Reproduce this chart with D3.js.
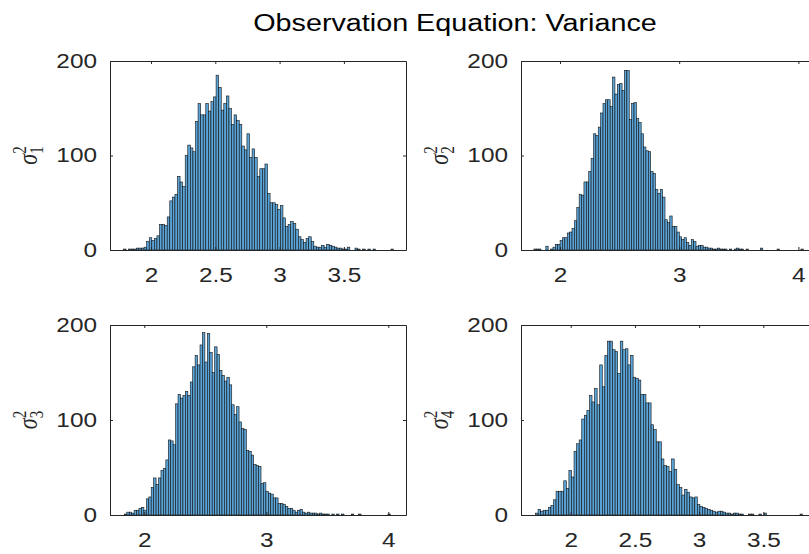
<!DOCTYPE html>
<html>
<head>
<meta charset="utf-8">
<script src="https://cdn.jsdelivr.net/npm/d3@7"></script>
<style>
  body { margin: 0; background: #fff; }
  svg { display: block; }
</style>
</head>
<body>
<svg id="chart" width="809" height="554"></svg>
<script>
// Posterior draws of the observation-equation variances, binned (bin width 0.02)
const binWidth = 0.02;
const yTicks = [0, 100, 200];

const binStart1 = 1.786;
const counts1 = [1,0,1,1,1,2,2,2,3,
  9,13,10,12,15,27,27,26,35,52,
  56,59,78,72,67,100,111,108,104,136,
  155,143,143,155,147,157,162,185,172,148,
  155,163,150,133,143,137,133,110,106,123,
  98,107,98,78,86,86,91,60,50,50,
  48,43,47,34,25,27,30,28,22,14,
  11,8,12,14,9,4,3,3,5,3,
  6,5,4,3,2,2,1,1,3,0,
  0,2,1,0,1,0,1,0,1,0,
  0,0,0,0,0,1];
const xDomain1 = [1.681, 3.983];
const xTicks1 = [2, 2.5, 3, 3.5];

const binStart2 = 1.781;
const counts2 = [1,1,1,0,0,4,0,1,3,6,
  6,10,13,13,18,19,23,31,45,59,
  58,72,72,83,97,123,121,130,145,155,
  159,159,152,183,165,175,176,169,190,190,
  138,155,156,139,135,123,109,105,104,83,
  81,64,60,64,56,32,29,36,25,25,
  19,14,11,13,8,5,11,9,4,5,
  5,3,3,2,2,1,1,2,1,1,
  1,0,1,0,1,2,1,1,0,1,
  0,0,0,0,0,2,0,0,0,0,
  0,0,1,0,0,0,0,0,0,0,0,0,1];
const xDomain2 = [1.673, 4.156];
const xTicks2 = [2, 3, 4];

const binStart3 = 1.8167;
const counts3 = [0,1,3,3,2,5,5,7,8,5,
  17,19,29,39,32,39,47,49,58,79,
  78,74,117,127,123,126,130,126,140,156,
  168,158,179,192,161,191,171,150,177,169,
  152,147,141,145,137,116,106,114,98,91,
  90,68,67,63,53,52,51,33,34,25,
  23,22,18,18,12,12,11,9,7,7,
  5,3,5,6,3,2,3,2,2,2,
  1,2,1,1,1,0,1,0,1,0,
  1,0,0,0,1,0,0,1,0,0,
  0,0,0,0,0,0,0,0,0,1];
const xDomain3 = [1.719, 4.145];
const xTicks3 = [2, 3, 4];

const binStart4 = 1.726;
const counts4 = [2,6,4,5,5,8,10,16,25,25,
  25,36,28,47,40,67,75,79,101,105,
  110,126,119,133,116,158,135,168,183,183,
  174,172,149,183,174,175,158,168,145,144,
  142,127,127,118,118,95,90,77,77,59,
  52,51,46,59,48,32,29,21,27,24,
  19,18,19,11,9,8,7,6,5,4,
  3,4,4,3,2,2,1,2,2,1,
  1,0,0,1,1,0,0,1,0,2,
  0,0,0,0,0,0,0,0,0,0,0,0,0,1];
const xDomain4 = [1.613, 3.918];
const xTicks4 = [2, 2.5, 3, 3.5];

const subscripts = ["1", "2", "3", "4"];
const titleText = "Observation Equation: Variance";

// ---- layout ----
const svg = d3.select("#chart");
const STRETCH = 1.25;           // horizontal widening applied to all lettering
const W = 296;
const colX = [110, 521];
const rowY = [61, 325];
const rowH = [189, 190];
const axisColor = "#262626";
const sans = "'Liberation Sans', Arial, Helvetica, sans-serif";

const panels = [
  { start: binStart1, counts: counts1, xDomain: xDomain1, xTicks: xTicks1, col: 0, row: 0 },
  { start: binStart2, counts: counts2, xDomain: xDomain2, xTicks: xTicks2, col: 1, row: 0 },
  { start: binStart3, counts: counts3, xDomain: xDomain3, xTicks: xTicks3, col: 0, row: 1 },
  { start: binStart4, counts: counts4, xDomain: xDomain4, xTicks: xTicks4, col: 1, row: 1 }
];

// title
svg.append("text")
  .attr("transform", `translate(455,31) scale(${STRETCH},1)`)
  .attr("text-anchor", "middle")
  .style("font-family", sans)
  .style("font-size", "23px")
  .style("fill", "#000")
  .text(titleText);

panels.forEach((p, i) => {
  const x0 = colX[p.col], y0 = rowY[p.row], H = rowH[p.row];
  const x = d3.scaleLinear().domain(p.xDomain).range([0, W]);
  const y = d3.scaleLinear().domain([0, 200]).range([H, 0]);
  const g = svg.append("g").attr("transform", `translate(${x0},${y0})`);

  const bins = p.counts.map((c, k) => ({
    x0: p.start + k * binWidth,
    x1: p.start + (k + 1) * binWidth,
    c
  })).filter(d => d.c > 0);

  g.append("g").selectAll("rect").data(bins).join("rect")
    .attr("x", d => x(d.x0))
    .attr("width", d => x(d.x1) - x(d.x0))
    .attr("y", d => y(d.c))
    .attr("height", d => y(0) - y(d.c))
    .attr("fill", "#5aa4d8")
    .attr("stroke", "#111")
    .attr("stroke-width", 0.6);

  const fmt = d => String(d);

  const bottom = g.append("g").attr("transform", `translate(0,${H})`)
    .call(d3.axisBottom(x).tickValues(p.xTicks).tickFormat(fmt)
      .tickSizeInner(-3).tickSizeOuter(0).tickPadding(18));
  const top = g.append("g")
    .call(d3.axisTop(x).tickValues(p.xTicks).tickFormat("")
      .tickSizeInner(-3).tickSizeOuter(0));
  const left = g.append("g")
    .call(d3.axisLeft(y).tickValues(yTicks).tickFormat(fmt)
      .tickSizeInner(-3).tickSizeOuter(0).tickPadding(10.4));
  const right = g.append("g").attr("transform", `translate(${W},0)`)
    .call(d3.axisRight(y).tickValues(yTicks).tickFormat("")
      .tickSizeInner(-3).tickSizeOuter(0));

  [bottom, top, left, right].forEach(a => {
    a.selectAll("path.domain").attr("stroke", axisColor).attr("stroke-width", 1);
    a.selectAll(".tick line").attr("stroke", axisColor).attr("stroke-width", 1);
    a.selectAll("text")
      .style("font-family", sans)
      .style("font-size", "19.5px")
      .attr("fill", axisColor);
  });
  bottom.selectAll("text").attr("transform", `scale(${STRETCH},1)`);
  left.selectAll("text").attr("transform", `scale(${STRETCH},1)`);

  // y label: sigma_i^2, rotated
  const lab = svg.append("text")
    .attr("transform", `translate(${x0 - 73},${y0 + H / 2}) scale(${STRETCH},1) rotate(-90)`)
    .attr("text-anchor", "middle")
    .style("font-family", "'Liberation Serif', 'DejaVu Serif', serif")
    .style("font-size", "22px")
    .attr("fill", axisColor);
  lab.append("tspan").style("font-style", "italic").text("σ");
  lab.append("tspan").attr("dy", 5).style("font-size", "15px").text(subscripts[i]);
  lab.append("tspan").attr("dx", -7.5).attr("dy", -14).style("font-size", "15px").text("2");
});
</script>
</body>
</html>
